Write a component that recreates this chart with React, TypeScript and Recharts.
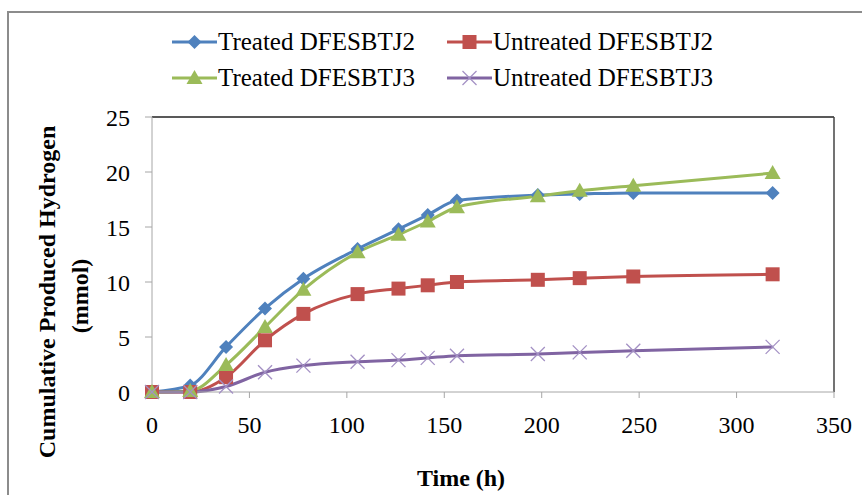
import React from 'react';
import { LineChart, Line, XAxis, YAxis, Legend, ReferenceLine } from 'recharts';

const times = [0, 19.6, 38, 58, 77.7, 105.5, 126.5, 141.5, 156.5, 198, 219.5, 247, 318.5];
const treatedJ2 = [0, 0.6, 4.1, 7.6, 10.3, 13.0, 14.8, 16.1, 17.4, 17.9, 18.0, 18.1, 18.1];
const untreatedJ2 = [0, 0, 1.35, 4.7, 7.1, 8.9, 9.4, 9.7, 10.0, 10.2, 10.35, 10.5, 10.7];
const treatedJ3 = [0, 0.1, 2.45, 5.9, 9.3, 12.7, 14.3, 15.5, 16.8, 17.8, 18.3, 18.75, 19.9];
const untreatedJ3 = [0, 0, 0.5, 1.8, 2.4, 2.75, 2.9, 3.1, 3.3, 3.45, 3.6, 3.75, 4.1];

const seriesNames = ['Treated DFESBTJ2', 'Untreated DFESBTJ2', 'Treated DFESBTJ3', 'Untreated DFESBTJ3'];
const xTicks = [0, 50, 100, 150, 200, 250, 300, 350];
const yTicks = [0, 5, 10, 15, 20, 25];

const data = times.map((t, i) => ({
  t,
  tj2: treatedJ2[i],
  uj2: untreatedJ2[i],
  tj3: treatedJ3[i],
  uj3: untreatedJ3[i],
}));

const BLUE = '#4F81BD';
const RED = '#C0504D';
const GREEN = '#9BBB59';
const PURPLE = '#8064A2';
const PURPLE_LIGHT = '#A390C4';
const FONT = '"Liberation Serif", "Times New Roman", serif';

type Kind = 'diamond' | 'square' | 'triangle' | 'x';

const Marker = ({ kind, cx, cy }: { kind: Kind; cx: number; cy: number }) => {
  if (cx == null || cy == null) return null;
  if (kind === 'diamond') {
    return <polygon points={`${cx},${cy - 7} ${cx + 7},${cy} ${cx},${cy + 7} ${cx - 7},${cy}`} fill={BLUE} />;
  }
  if (kind === 'square') {
    return <rect x={cx - 7} y={cy - 7} width={14} height={14} fill={RED} />;
  }
  if (kind === 'triangle') {
    return <polygon points={`${cx},${cy - 8} ${cx + 8},${cy + 6} ${cx - 8},${cy + 6}`} fill={GREEN} />;
  }
  return (
    <g stroke={PURPLE_LIGHT} strokeWidth={1.3}>
      <line x1={cx - 7} y1={cy - 7} x2={cx + 7} y2={cy + 7} />
      <line x1={cx - 7} y1={cy + 7} x2={cx + 7} y2={cy - 7} />
    </g>
  );
};

const makeDot = (kind: Kind) => (props: any) => (
  <Marker key={`${kind}-${props.index}`} kind={kind} cx={props.cx} cy={props.cy} />
);

const legendItems: { name: string; color: string; kind: Kind; left: number; top: number }[] = [
  { name: seriesNames[0], color: BLUE, kind: 'diamond', left: 172, top: 42 },
  { name: seriesNames[1], color: RED, kind: 'square', left: 447, top: 42 },
  { name: seriesNames[2], color: GREEN, kind: 'triangle', left: 172, top: 78 },
  { name: seriesNames[3], color: PURPLE, kind: 'x', left: 447, top: 78 },
];

const renderLegend = () => (
  <div style={{ position: 'relative', width: 862, height: 100 }}>
    {legendItems.map((it) => (
      <div
        key={it.name}
        style={{
          position: 'absolute',
          left: it.left,
          top: it.top - 15,
          height: 30,
          display: 'flex',
          alignItems: 'center',
          whiteSpace: 'nowrap',
        }}
      >
        <svg width={45} height={30} style={{ display: 'block' }}>
          <line x1={0} y1={15} x2={45} y2={15} stroke={it.color} strokeWidth={3} />
          <Marker kind={it.kind} cx={22.5} cy={15} />
        </svg>
        <span style={{ fontFamily: FONT, fontSize: 25, color: '#000', marginLeft: 1, lineHeight: '30px' }}>{it.name}</span>
      </div>
    ))}
  </div>
);

const YTitle = () => (
  <g>
    <text
      transform="translate(47,292) rotate(-90)"
      textAnchor="middle"
      dominantBaseline="central"
      fontFamily={FONT}
      fontWeight="bold"
      fontSize={24}
      fill="#000"
    >
      Cumulative Produced Hydrogen
    </text>
    <text
      transform="translate(80,296) rotate(-90)"
      textAnchor="middle"
      dominantBaseline="central"
      fontFamily={FONT}
      fontWeight="bold"
      fontSize={24}
      fill="#000"
    >
      (mmol)
    </text>
  </g>
);

const XTitle = () => (
  <text x={461} y={478} textAnchor="middle" dominantBaseline="central" fontFamily={FONT} fontWeight="bold" fontSize={24} fill="#000">
    Time (h)
  </text>
);

export default function App() {
  return (
    <div style={{ position: 'absolute', left: 0, top: 0, width: 862, height: 495, background: '#fff' }}>
      <div
        style={{
          position: 'absolute',
          left: 7,
          top: 11,
          width: 862,
          height: 495,
          borderLeft: '2px solid #8C8C8C',
          borderTop: '2px solid #8C8C8C',
        }}
      />
      <LineChart
        width={862}
        height={495}
        data={data}
        margin={{ top: 117, right: 28, bottom: 63, left: 92 }}
        style={{ position: 'absolute', left: 0, top: 0 }}
      >
        <XAxis
          dataKey="t"
          type="number"
          domain={[0, 350]}
          ticks={xTicks}
          interval={0}
          height={40}
          stroke="#A6A6A6"
          tickSize={6}
          tickMargin={18}
          tick={{ fontFamily: FONT, fontSize: 24, fill: '#000' }}
          label={<XTitle />}
        />
        <YAxis
          type="number"
          domain={[0, 25]}
          ticks={yTicks}
          interval={0}
          width={60}
          stroke="#A6A6A6"
          tickSize={7}
          tickMargin={15}
          tick={{ fontFamily: FONT, fontSize: 24, fill: '#000' }}
          label={<YTitle />}
        />
        <ReferenceLine y={25} stroke="#222" strokeWidth={1.5} ifOverflow="extendDomain" />
        <ReferenceLine x={350} stroke="#444" strokeWidth={1.5} ifOverflow="extendDomain" />
        <Legend
          layout="horizontal"
          verticalAlign="middle"
          align="center"
          wrapperStyle={{ left: 0, top: 0, width: 862 }}
          content={renderLegend}
        />
        <Line
          type="monotone"
          dataKey="tj2"
          name={seriesNames[0]}
          stroke={BLUE}
          strokeWidth={3}
          dot={makeDot('diamond')}
          activeDot={false}
          isAnimationActive={false}
        />
        <Line
          type="monotone"
          dataKey="uj2"
          name={seriesNames[1]}
          stroke={RED}
          strokeWidth={3}
          dot={makeDot('square')}
          activeDot={false}
          isAnimationActive={false}
        />
        <Line
          type="monotone"
          dataKey="tj3"
          name={seriesNames[2]}
          stroke={GREEN}
          strokeWidth={3}
          dot={makeDot('triangle')}
          activeDot={false}
          isAnimationActive={false}
        />
        <Line
          type="monotone"
          dataKey="uj3"
          name={seriesNames[3]}
          stroke={PURPLE}
          strokeWidth={3}
          dot={makeDot('x')}
          activeDot={false}
          isAnimationActive={false}
        />
      </LineChart>
    </div>
  );
}
